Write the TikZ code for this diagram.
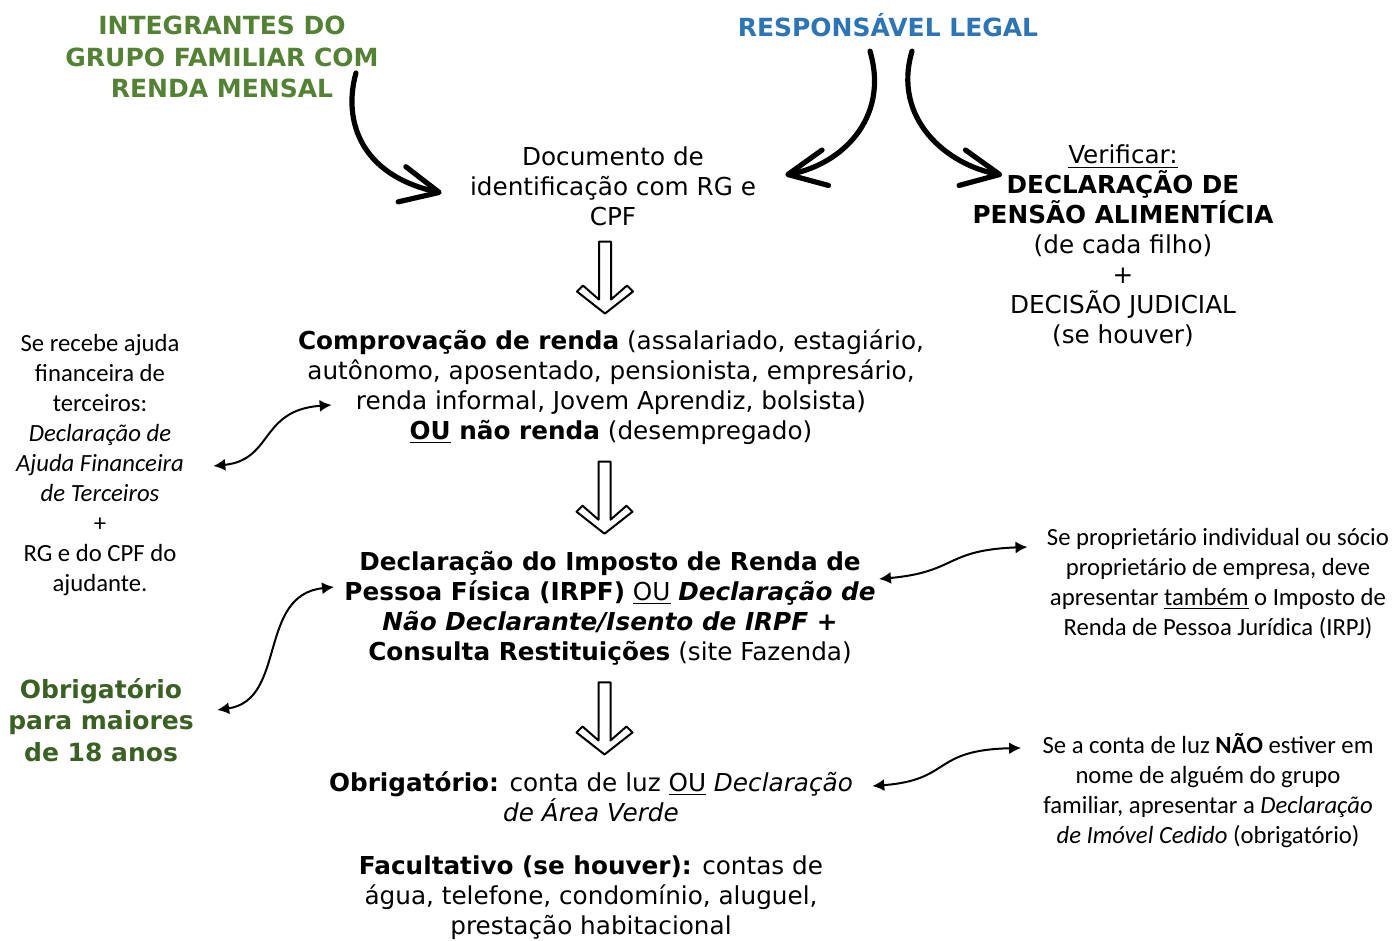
\documentclass[tikz,border=0pt]{standalone}
\usepackage{fontspec}
\setmainfont{DejaVu Sans}
\newfontfamily\calibrifont{Carlito}
\usetikzlibrary{arrows.meta,calc}
\definecolor{famgreen}{RGB}{84,130,53}
\definecolor{respblue}{RGB}{46,117,182}
\definecolor{adultgreen}{RGB}{59,96,35}
\tikzset{
    hollowarrow/.pic={
        \draw[line width=1pt,line join=round] (-6,-36) -- (6,-36) -- (6,22) -- (22,8) -- (28,14) -- (0,36)
            -- (-28,14) -- (-22,8) -- (-6,22) -- cycle;
    }
}

\begin{document}
\begin{tikzpicture}[x=0.5pt,y=-0.5pt,
        every node/.style={inner sep=0pt,align=center,font=\fontsize{12.35}{15}\selectfont},
        title/.style={font=\fontsize{12.5}{15.75}\selectfont\bfseries},
        note/.style={font=\fontsize{12.35}{15}\selectfont\calibrifont},
        bigarrow/.style={line width=2.6pt,line cap=round,-{Straight Barb[round,length=19pt,width=18pt]}},
        sidearrow/.style={line width=1pt,{Latex[length=6pt,width=6pt]}-{Latex[length=6pt,width=6pt]}},
    ]
    \useasboundingbox (0,0) rectangle (1394,941);

    % Headings
    \node[title,text=famgreen] (integrantes) at (222,57) {INTEGRANTES DO\\GRUPO FAMILIAR COM\\RENDA MENSAL};
    \node[title,text=respblue] (resp) at (888,25) {RESPONSÁVEL LEGAL};

    % Main column
    \node (doc) at (613,186) {Documento de\\identificação com RG e\\CPF};
    \node (renda) at (611,387) {\textbf{Comprovação de renda} (assalariado, estagiário,\\autônomo, aposentado, pensionista, empresário,\\renda informal, Jovem Aprendiz, bolsista)\\\textbf{\underline{OU} não renda} (desempregado)};
    \node (irpf) at (610,608) {\textbf{Declaração do Imposto de Renda de}\\\textbf{Pessoa Física (IRPF)} \underline{OU} \textbf{\textit{Declaração de}}\\\textbf{\textit{Não Declarante/Isento de IRPF} +}\\\textbf{Consulta Restituições} (site Fazenda)};
    \node (luz) at (591,797) {\textbf{Obrigatório:} conta de luz \underline{OU} \textit{Declaração}\\\textit{de Área Verde}};
    \node (facult) at (591,898) {\textbf{Facultativo (se houver):} contas de\\água, telefone, condomínio, aluguel,\\prestação habitacional};

    % Side notes
    \node (verif) at (1123,246) {\underline{Verificar:}\\\textbf{DECLARAÇÃO DE}\\\textbf{PENSÃO ALIMENTÍCIA}\\(de cada filho)\\+\\DECISÃO JUDICIAL\\(se houver)};
    \node[note] (ajuda) at (100,465) {Se recebe ajuda\\financeira de\\terceiros:\\\textit{Declaração de}\\\textit{Ajuda Financeira}\\\textit{de Terceiros}\\+\\RG e do CPF do\\ajudante.};
    \node[title,text=adultgreen] (adult) at (101,720) {Obrigatório\\para maiores\\de 18 anos};
    \node[note] (irpj) at (1218,584) {Se proprietário individual ou sócio\\proprietário de empresa, deve\\apresentar \underline{também} o Imposto de\\Renda de Pessoa Jurídica (IRPJ)};
    \node[note] (imovel) at (1208,791) {Se a conta de luz \textbf{NÃO} estiver em\\nome de alguém do grupo\\familiar, apresentar a \textit{Declaração}\\\textit{de Imóvel Cedido} (obrigatório)};

    % Curved arrows from the headings
    \draw[bigarrow] ([shift={(-23,16)}]integrantes.east) .. controls +(-13,47) and +(-82,-18) .. ([shift={(-28,7)}]doc.west);
    \draw[bigarrow] ([shift={(-18,14)}]resp.south) .. controls +(20,68) and +(55,-10) .. ([shift={(29,-11)}]doc.east);
    \draw[bigarrow] ([shift={(24,14)}]resp.south) .. controls +(-20,68) and +(-55,-10) .. ([shift={(30,-71)}]verif.west);

    % Down arrows
    \pic at ($(doc.south)!.5!(renda.north)+(-7,0)$) {hollowarrow};
    \pic at ($(renda.south)!.5!(irpf.north)+(-6,0)$) {hollowarrow};
    \pic at ($(irpf.south)!.5!(luz.north)+(4,0)$) {hollowarrow};

    % Side links
    \draw[sidearrow] ([shift={(29,1)}]ajuda.east) .. controls +(60,-6) and +(-72,5) .. ([shift={(34,18)}]renda.west);
    \draw[sidearrow] ([shift={(23,-10)}]adult.east) .. controls +(70,-10) and +(-77,8) .. ([shift={(-10,-21)}]irpf.west);
    \draw[sidearrow] ([shift={(3,-29)}]irpf.east) .. controls +(78,-7) and +(-83,3) .. ([shift={(-19,-37)}]irpj.west);
    \draw[sidearrow] ([shift={(19,-11)}]luz.east) .. controls +(80,-6) and +(-90,2) .. ([shift={(-21,-43)}]imovel.west);
\end{tikzpicture}
\end{document}
